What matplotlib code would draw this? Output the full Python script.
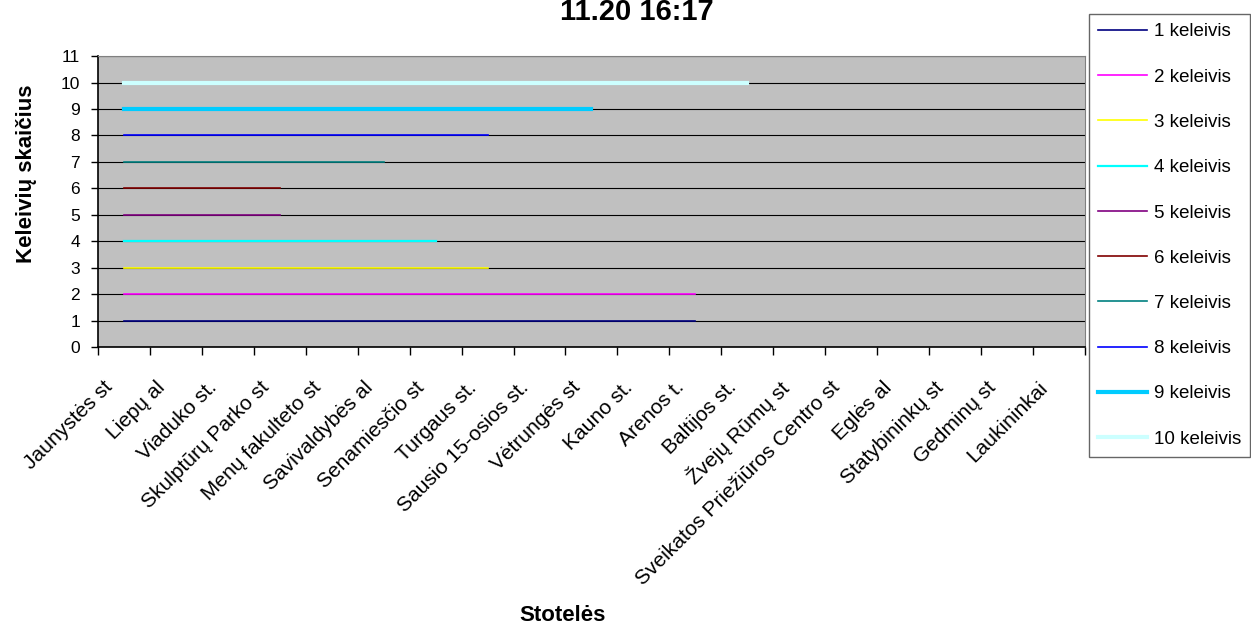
import matplotlib.pyplot as plt
import matplotlib.transforms as mtransforms
import numpy as np

plt.rcParams['font.family'] = ['Liberation Sans', 'DejaVu Sans']

stops = ['Jaunystės st', 'Liepų al', 'Viaduko st.', 'Skulptūrų Parko st',
         'Menų fakulteto st', 'Savivaldybės al', 'Senamiesčio st',
         'Turgaus st.', 'Sausio 15-osios st.', 'Vėtrungės st', 'Kauno st.',
         'Arenos t.', 'Baltijos st.', 'Žvejų Rūmų st',
         'Sveikatos Priežiūros Centro st', 'Eglės al', 'Statybininkų st',
         'Gedminų st', 'Laukininkai']

# each passenger rides from the first stop up to last_stop (index)
passengers = ['1 keleivis', '2 keleivis', '3 keleivis', '4 keleivis', '5 keleivis',
              '6 keleivis', '7 keleivis', '8 keleivis', '9 keleivis', '10 keleivis']
level = [1, 2, 3, 4, 5, 6, 7, 8, 9, 10]
last_stop = [11, 11, 7, 6, 3, 3, 5, 7, 9, 12]

colors = ['#000080', '#FF00FF', '#FFFF00', '#00FFFF', '#800080',
          '#800000', '#008080', '#0000FF', '#00CCFF', '#CCFFFF']
widths = [1.2, 1.2, 1.2, 1.6, 1.2, 1.2, 1.2, 1.2, 3.0, 3.0]

fig = plt.figure(figsize=(12.51, 6.24), dpi=100)
ax = fig.add_axes([0.0783, 0.444, 0.789, 0.466])
ax.set_facecolor('#C0C0C0')

x = np.arange(len(stops))
for i in range(len(level)):
    y = np.full(len(stops), np.nan)
    y[:last_stop[i] + 1] = level[i]
    ax.plot(x, y, color=colors[i], lw=widths[i], label=passengers[i], zorder=3)

ax.set_xlim(-0.5, len(stops) - 0.5)
ax.set_ylim(0, 11)
ax.set_yticks(range(0, 12))
ax.yaxis.grid(True, color='black', lw=0.8)
ax.set_axisbelow(True)
ax.tick_params(axis='y', labelsize=12.5, length=5, width=1, pad=8)

ax.set_xticks(np.arange(-0.5, len(stops)), labels=[])
ax.set_xticks(x, minor=True)
ax.set_xticklabels(stops, minor=True, rotation=45, ha='right', va='center',
                   rotation_mode='anchor', fontsize=15)
ax.tick_params(axis='x', which='major', length=6, width=1)
ax.tick_params(axis='x', which='minor', length=0, pad=27)
shift = mtransforms.ScaledTranslation(-14 / 100, 0, fig.dpi_scale_trans)
for lab in ax.get_xticklabels(minor=True):
    lab.set_transform(lab.get_transform() + shift)

for s in ['top', 'right']:
    ax.spines[s].set_color('#808080')
for s in ['bottom', 'left']:
    ax.spines[s].set_color('black')
    ax.spines[s].set_linewidth(1.2)

fig.text(27 / 1251, 1 - 174 / 624, 'Keleivių skaičius', fontsize=16,
         fontweight='bold', rotation=90, ha='center', va='center')
fig.text(563 / 1251, 1 - 621 / 624, 'Stotelės', fontsize=16,
         fontweight='bold', ha='center', va='baseline')
fig.text(637 / 1251, 1 - 20 / 624, '11.20 16:17', fontsize=21,
         fontweight='bold', ha='center', va='baseline')

leg = fig.legend(loc='upper left', bbox_to_anchor=(1089 / 1251, 1 - 14 / 624),
                 fontsize=13.5, labelspacing=1.5, handlelength=2.6,
                 handletextpad=0.35, borderpad=0.5, fancybox=False,
                 frameon=True, borderaxespad=0)
leg.get_frame().set_edgecolor('#404040')
leg.get_frame().set_linewidth(1)

plt.savefig('out.png', dpi=100)
